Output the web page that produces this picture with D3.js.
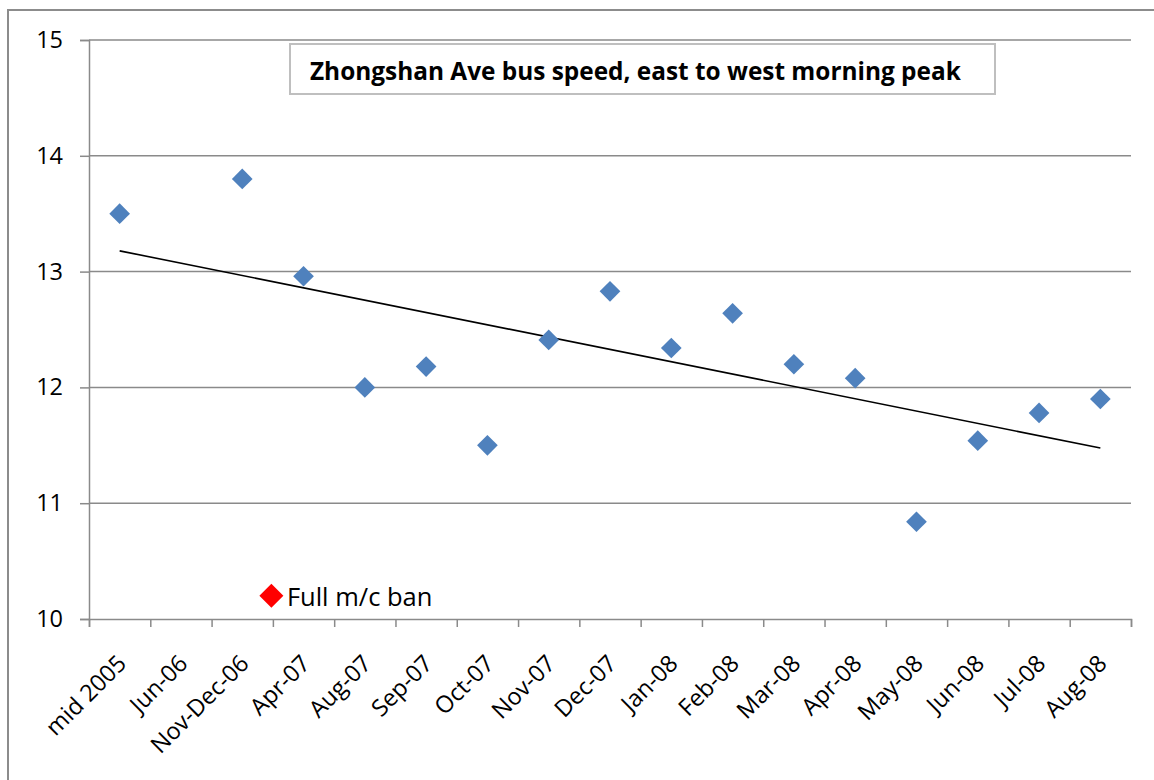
<!DOCTYPE html>
<html>
<head>
<meta charset="utf-8">
<script src="https://cdn.jsdelivr.net/npm/d3@7"></script>
<style>
  html, body { margin: 0; padding: 0; background: #fff; }
  svg { display: block; }
  text { font-family: "Open Sans", "DejaVu Sans", sans-serif; fill: #000; }
</style>
</head>
<body>
<svg id="chart" width="1154" height="780"></svg>
<script>
// Survey months (category axis)
const categories = ["mid 2005", "Jun-06", "Nov-Dec-06", "Apr-07", "Aug-07", "Sep-07", "Oct-07",
  "Nov-07", "Dec-07", "Jan-08", "Feb-08", "Mar-08", "Apr-08", "May-08", "Jun-08", "Jul-08", "Aug-08"];
// Average bus speed (km/h); no survey in Jun-06
const speeds = [13.5, null, 13.8, 12.96, 12.0, 12.18, 11.5,
  12.41, 12.83, 12.34, 12.64, 12.2, 12.08, 10.84, 11.54, 11.78, 11.9];
const yTicks = [10, 11, 12, 13, 14, 15];
// Marker for the motorcycle ban (position on the category axis, value)
const banPosition = [2.5];
const banValue = [10.2];
const banLabel = ["Full m/c ban"];
const titleText = "Zhongshan Ave bus speed, east to west morning peak";

const svg = d3.select("#chart");
const plot = { left: 89, right: 1131, top: 40, bottom: 619 };

// Category index scale: each category occupies one slot, centred on its index
const x = d3.scaleLinear().domain([-0.5, categories.length - 0.5]).range([plot.left, plot.right]);
const y = d3.scaleLinear().domain([10, 15]).range([plot.bottom, plot.top]);

// Outer chart frame
svg.append("rect").attr("x", 8).attr("y", 10).attr("width", 1170).attr("height", 800)
  .attr("fill", "none").attr("stroke", "#8c8c8c").attr("stroke-width", 2);

// Horizontal gridlines
svg.append("g").selectAll("line").data(yTicks.filter(t => t > 10)).join("line")
  .attr("x1", plot.left).attr("x2", plot.right)
  .attr("y1", d => y(d)).attr("y2", d => y(d))
  .attr("stroke", "#8a8a8a").attr("stroke-width", 1.5);

// Y axis
const yAxis = svg.append("g").attr("transform", `translate(${plot.left},0)`)
  .call(d3.axisLeft(y).tickValues(yTicks).tickSize(9).tickPadding(17).tickFormat(d3.format("d")));
yAxis.select(".domain").attr("stroke", "#8a8a8a").attr("stroke-width", 1.5);
yAxis.selectAll(".tick line").attr("stroke", "#8a8a8a").attr("stroke-width", 1.5);
yAxis.selectAll(".tick text").attr("font-size", "23.5px").attr("font-family", "Open Sans").attr("fill", "#000");

// X axis: tick marks on category boundaries, labels at centres
const boundaries = d3.range(categories.length + 1).map(i => i - 0.5);
const xAxis = svg.append("g").attr("transform", `translate(0,${plot.bottom})`)
  .call(d3.axisBottom(x).tickValues(boundaries).tickSize(8).tickFormat(""));
xAxis.select(".domain").attr("stroke", "#8a8a8a").attr("stroke-width", 1.5);
xAxis.selectAll(".tick line").attr("stroke", "#8a8a8a").attr("stroke-width", 1.5);

svg.append("g").selectAll("text").data(categories).join("text")
  .attr("transform", (d, i) => `translate(${x(i) + 8},${plot.bottom + 46}) rotate(-45)`)
  .attr("text-anchor", "end")
  .attr("font-size", "23.5px")
  .text(d => d);

// Linear trend over the surveyed categories (least squares on category index)
const pts = speeds.map((v, i) => ({ i, v })).filter(d => d.v != null);
const mx = d3.mean(pts, d => d.i), my = d3.mean(pts, d => d.v);
const slope = d3.sum(pts, d => (d.i - mx) * (d.v - my)) / d3.sum(pts, d => (d.i - mx) ** 2);
const trendEnds = [pts[0].i, pts[pts.length - 1].i];
svg.append("line")
  .attr("x1", x(trendEnds[0])).attr("y1", y(my + slope * (trendEnds[0] - mx)))
  .attr("x2", x(trendEnds[1])).attr("y2", y(my + slope * (trendEnds[1] - mx)))
  .attr("stroke", "#000").attr("stroke-width", 1.6);

// Speed markers
const diamond = d3.symbol(d3.symbolSquare, 214);
svg.append("g").selectAll("path").data(pts).join("path")
  .attr("d", diamond)
  .attr("transform", d => `translate(${x(d.i)},${y(d.v)}) rotate(45)`)
  .attr("fill", "#4f81bd");

// Motorcycle ban marker and label
const ban = svg.append("g");
ban.selectAll("path").data(banPosition).join("path")
  .attr("d", d3.symbol(d3.symbolSquare, 288))
  .attr("transform", (d, i) => `translate(${x(d) - 1.5},${y(banValue[i])}) rotate(45)`)
  .attr("fill", "#ff0000");
ban.selectAll("text").data(banPosition).join("text")
  .attr("x", d => x(d) + 14).attr("y", (d, i) => y(banValue[i]) + 10)
  .attr("font-size", "25.5px")
  .text((d, i) => banLabel[i]);

// Title box
svg.append("rect").attr("x", 290).attr("y", 44).attr("width", 705).attr("height", 50)
  .attr("fill", "#fff").attr("stroke", "#bfbfbf").attr("stroke-width", 2);
svg.append("text").attr("x", 310).attr("y", 80)
  .attr("font-size", "24.4px").attr("font-weight", "bold")
  .text(titleText);
</script>
</body>
</html>
